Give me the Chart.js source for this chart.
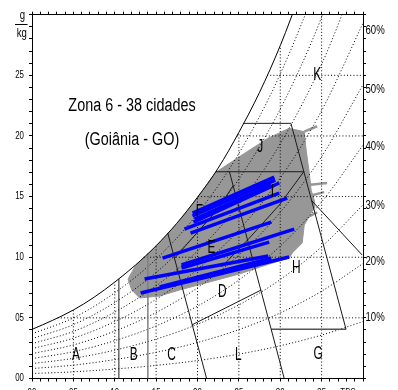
<!DOCTYPE html>
<html>
<head>
<meta charset="utf-8">
<script src="https://cdn.jsdelivr.net/npm/chart.js@4.4.0/dist/chart.umd.min.js"></script>
<style>
  html, body { margin: 0; padding: 0; background: #fff; overflow: hidden; }
  #wrap { width: 398px; height: 400px; }
</style>
</head>
<body>
<div id="wrap"><canvas id="chart"></canvas></div>
<script>
// saturation curve (100% RH), temperature in C, humidity ratio in g/kg
const satT = [0, 2.5, 5, 7.5, 10, 12.5, 15, 17.5, 20, 22.5, 25, 27.5, 30, 32.5];
const satW = [4.05, 4.8, 5.65, 6.7, 7.95, 9.35, 10.95, 12.8, 14.95, 17.35, 20.3, 23.6, 27.45, 31.9];

// relative humidity curves
const rhT = [0, 5, 10, 15, 20, 25, 30, 35, 40];
const rh10 = [0.41, 0.55, 0.78, 1.08, 1.48, 2.01, 2.70, 3.58, 4.70];
const rh20 = [0.82, 1.10, 1.56, 2.16, 2.97, 4.03, 5.41, 7.20, 9.48];
const rh30 = [1.23, 1.66, 2.34, 3.25, 4.47, 6.07, 8.16, 10.86, 14.32];
const rh40 = [1.64, 2.21, 3.12, 4.34, 5.97, 8.12, 10.92, 14.56, 19.24];
const rh50 = [2.05, 2.77, 3.91, 5.44, 7.48, 10.18, 13.71, 18.30, 24.23];
const rh60 = [2.46, 3.33, 4.69, 6.53, 9.00, 12.25, 16.52, 22.09, 29.30];
const rh70 = [2.87, 3.88, 5.48, 7.64, 10.52, 14.34, 19.36, 25.92, 34.44];
const rh80 = [3.28, 4.44, 6.27, 8.74, 12.06, 16.44, 22.22, 29.79, 39.66];
const rh90 = [3.69, 5.00, 7.07, 9.85, 13.59, 18.56, 25.11, 33.71, 44.97];

// dotted grid below the saturation curve
const gridVT = [5, 10, 15, 20, 25, 30, 35];
const gridVTop = [5.65, 7.95, 10.95, 14.95, 20.3, 27.45, 30];
const gridHW = [5, 10, 15, 20, 25];
const gridHStart = [3.1, 13.5, 20.05, 24.75, 28.4];

// zone boundaries
const lineAB = { t: [10.5, 10.5], w: [0, 8.23] };
const lineBC = { t: [14, 14], w: [0, 10.3] };
const lineC = { t: [16.4, 21.1], w: [12.0, 0] };
const lineDL = { t: [19.3, 27.7], w: [4.41, 7.30] };
const lineA = { t: [23.86, 30.48], w: [17.05, 0] };
const lineGtop = { t: [28.9, 37.95], w: [4.06, 4.06] };
const lineRight = { t: [31.29, 37.95], w: [21.04, 4.06] };
const lineHK = { t: [33.73, 39.9], w: [14.72, 10.18] };
const lineJtop = { t: [25.5, 31.29], w: [21.04, 21.04] };
const lineJbot = { t: [22.2, 32.84], w: [17.05, 17.05] };
const lineEI = { t: [22.9, 26.27, 29.88, 32.84], w: [9.19, 11.58, 14.30, 17.05] };
const lineFE = { t: [17.2, 20, 22.5, 24.3], w: [9.9, 12.06, 14.0, 15.9] };

// hourly data cloud (outline)
const cloudT = [11.6, 12.5, 15, 17.5, 20, 22.2, 25.06, 28.47, 31.08, 32.9, 33.13, 33.49, 33.73, 34.1, 34.2, 33.7, 32.9, 32.65, 31.45, 31.08, 28.67, 25.06, 21.45, 17.83, 15.42, 13.01, 12.05, 11.6];
const cloudW = [8.2, 9.3, 10.9, 12.75, 14.9, 17.0, 18.29, 19.8, 20.63, 20.35, 18.84, 17.02, 15.54, 14.72, 14.14, 13.62, 12.65, 11.17, 10.35, 9.94, 9.44, 8.62, 7.96, 7.30, 6.80, 6.64, 7.30, 8.2];
const streakT0 = [32.9, 33.37, 33.49, 33.0];
const streakW0 = [20.35, 15.95, 15.05, 13.2];
const streakT1 = [34.46, 35.66, 35.3, 34.46];
const streakW1 = [20.8, 16.12, 15.37, 13.7];

// monthly lines (blue)
const monthT0 = [19.40, 19.40, 19.64, 19.52, 18.43, 19.16, 15.78, 18.07, 18.07, 13.61, 13.13, 15.42];
const monthW0 = [13.64, 13.40, 13.15, 12.90, 12.32, 11.99, 9.93, 9.36, 9.11, 8.20, 7.05, 7.54];
const monthT1 = [29.28, 29.40, 28.92, 29.88, 29.88, 30.84, 28.92, 31.69, 28.67, 28.55, 31.08, 28.92];
const monthW1 = [16.61, 16.36, 15.95, 16.12, 15.29, 14.88, 12.90, 12.32, 11.25, 10.10, 10.02, 9.93];

// zone letters
const zoneText = ['A', 'B', 'C', 'L', 'G', 'D', 'H', 'E', 'F', 'I', 'J', 'K'];
const zoneT = [5.30, 12.29, 16.87, 24.94, 34.58, 23.01, 31.93, 21.69, 20.24, 29.04, 27.59, 34.46];
const zoneW = [1.94, 1.94, 1.94, 1.94, 2.03, 7.13, 9.11, 10.76, 13.73, 15.38, 19.08, 25.02];

// tick labels
const xLabelVals = [0, 5, 10, 15, 20, 25, 30, 35];
const xLabelText = ['00', '05', '10', '15', '20', '25', '30', '35'];
const yLabelVals = [0, 5, 10, 15, 20, 25];
const yLabelText = ['00', '05', '10', '15', '20', '25'];
const rhLabelVals = [4.99, 9.62, 14.23, 19.08, 23.83, 28.65];
const rhLabelText = ['10%', '20%', '30%', '40%', '50%', '60%'];

const titleLines = ['Zona 6 - 38 cidades', '(Goiânia - GO)'];

function pts(ts, ws) {
    return ts.map((t, i) => ({ x: t, y: ws[i] }));
}

function lineSet(ts, ws, color, width, order, extra) {
    return Object.assign({
        data: pts(ts, ws),
        borderColor: color,
        borderWidth: width,
        pointRadius: 0,
        fill: false,
        tension: 0,
        order: order
    }, extra || {});
}

const DOT = [1, 2.2];
const datasets = [];

// gray cloud
datasets.push(lineSet(cloudT, cloudW, '#979797', 1, 6, { fill: 'shape', backgroundColor: '#979797' }));
streakT0.forEach((t, i) => {
    datasets.push(lineSet([t, streakT1[i]], [streakW0[i], streakW1[i]], '#979797', 2.5, 5));
});

// dotted RH curves
[rh10, rh20, rh30, rh40, rh50, rh60, rh70, rh80, rh90].forEach(ws => {
    datasets.push(lineSet(rhT, ws, '#000', 1, 3, { borderDash: DOT, cubicInterpolationMode: 'monotone' }));
});

// dotted grid
gridVT.forEach((t, i) => {
    datasets.push(lineSet([t, t], [0, gridVTop[i]], '#000', 1, 3, { borderDash: DOT }));
});
gridHW.forEach((w, i) => {
    datasets.push(lineSet([gridHStart[i], 40], [w, w], '#000', 1, 3, { borderDash: DOT }));
});

// zone boundaries
[lineAB, lineC, lineDL, lineA, lineRight, lineHK, lineJtop, lineJbot, lineEI, lineFE].forEach(l => {
    datasets.push(lineSet(l.t, l.w, '#1a1a1a', 1, 2));
});
datasets.push(lineSet(lineBC.t, lineBC.w, '#808080', 1.5, 2));
datasets.push(lineSet(lineGtop.t, lineGtop.w, '#555', 1.5, 2));

// saturation curve
datasets.push(lineSet(satT, satW, '#000', 1, 1, { cubicInterpolationMode: 'monotone' }));

// monthly lines
monthT0.forEach((t, i) => {
    datasets.push(lineSet([t, monthT1[i]], [monthW0[i], monthW1[i]], '#0000ff', 3.5, 0));
});

function txt(ctx, s, x, y, size, align, sx) {
    ctx.save();
    ctx.translate(x, y);
    ctx.scale(sx, 1);
    ctx.font = size + 'px "Liberation Sans", Arial, sans-serif';
    ctx.textAlign = align;
    ctx.textBaseline = 'middle';
    ctx.fillStyle = '#000';
    ctx.fillText(s, 0, 0);
    ctx.restore();
}

const textPlugin = {
    id: 'texts',
    afterDraw(chart) {
        const ctx = chart.ctx;
        const xs = chart.scales.x;
        const ys = chart.scales.y;

        yLabelVals.forEach((v, i) => txt(ctx, yLabelText[i], 24, ys.getPixelForValue(v), 10.5, 'right', 0.75));
        rhLabelVals.forEach((v, i) => txt(ctx, rhLabelText[i], 365.5, ys.getPixelForValue(v), 12, 'left', 0.8));
        xLabelVals.forEach((v, i) => txt(ctx, xLabelText[i], xs.getPixelForValue(v), 393.5, 10.5, 'center', 0.75));
        txt(ctx, 'TBS', 348, 393.5, 10.5, 'center', 0.75);

        // g/kg unit
        txt(ctx, 'g', 22.5, 16, 12, 'center', 0.8);
        ctx.save();
        ctx.strokeStyle = '#000';
        ctx.lineWidth = 1;
        ctx.beginPath();
        ctx.moveTo(15, 24.5);
        ctx.lineTo(27.5, 24.5);
        ctx.stroke();
        ctx.restore();
        txt(ctx, 'kg', 21.7, 33.5, 12, 'center', 0.8);

        zoneText.forEach((s, i) => txt(ctx, s, xs.getPixelForValue(zoneT[i]), ys.getPixelForValue(zoneW[i]), 18, 'center', 0.66));

        txt(ctx, titleLines[0], 132, 106, 18, 'center', 0.8);
        txt(ctx, titleLines[1], 132, 140, 18, 'center', 0.8);
    }
};

function axis(pos, max, size) {
    const vertical = pos === 'left' || pos === 'right';
    return {
        type: 'linear',
        position: pos,
        min: 0,
        max: max,
        ticks: { display: false, stepSize: 1 },
        grid: { drawOnChartArea: false, tickLength: 3, color: '#000', lineWidth: 1 },
        border: { display: true, color: '#000', width: 1 },
        afterFit: s => { if (vertical) { s.width = size; } else { s.height = size; } }
    };
}

new Chart(document.getElementById('chart'), {
    type: 'line',
    data: { datasets: datasets },
    options: {
        responsive: true,
        maintainAspectRatio: false,
        animation: false,
        layout: { padding: 0 },
        plugins: { legend: { display: false }, tooltip: { enabled: false } },
        scales: {
            x: axis('bottom', 40, 21.5),
            x2: axis('top', 40, 14.7),
            y: axis('left', 30, 32),
            y2: axis('right', 30, 35)
        }
    },
    plugins: [textPlugin]
});
</script>
</body>
</html>
